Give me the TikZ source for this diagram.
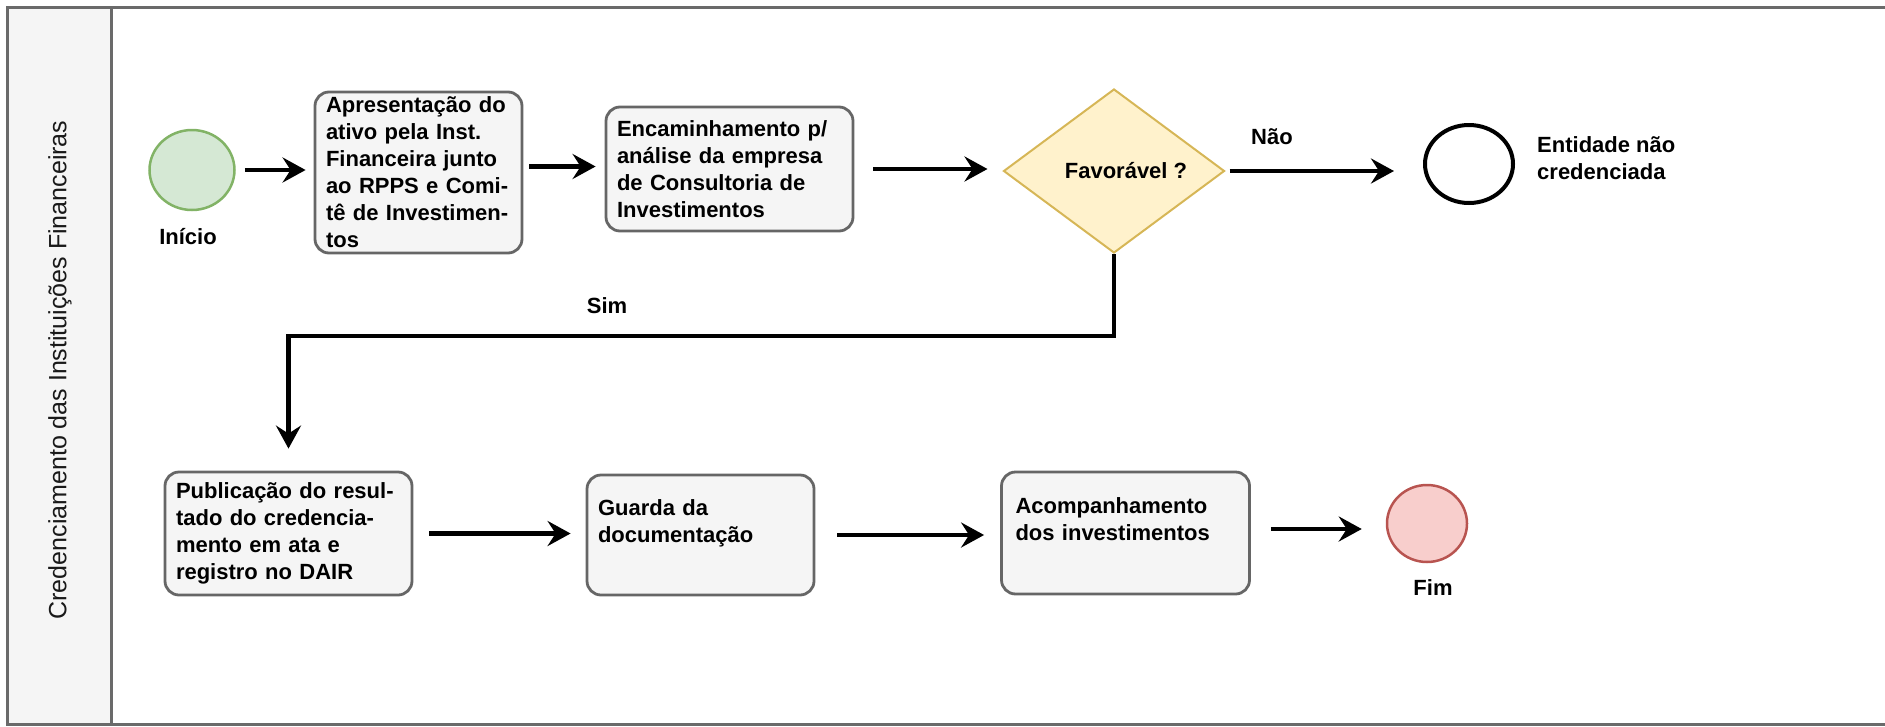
\documentclass[tikz,border=0pt]{standalone}
\usepackage{fontspec}
\setmainfont{Liberation Sans}
\usetikzlibrary{shapes.geometric,arrows.meta}

\definecolor{boxfill}{HTML}{F5F5F5}
\definecolor{boxline}{HTML}{666666}
\definecolor{startfill}{HTML}{D5E8D4}
\definecolor{startline}{HTML}{82B366}
\definecolor{endfill}{HTML}{F8CECC}
\definecolor{endline}{HTML}{B85450}
\definecolor{decfill}{HTML}{FFF2CC}
\definecolor{decline}{HTML}{D6B656}
\definecolor{lanegray}{HTML}{6A6A6A}

\begin{document}
\begin{tikzpicture}[x=1pt,y=-1pt,
    txt/.style={font=\bfseries\fontsize{22}{27}\selectfont},
    task/.style={txt, rectangle, rounded corners=14pt, draw=boxline, fill=boxfill,
        line width=2.8pt, align=left, inner xsep=11pt, inner ysep=2pt},
    event/.style={ellipse, inner sep=0pt},
    flow/.style={-{Stealth[length=23pt,width=25pt,inset=8pt]}, line width=4.2pt}]

    \useasboundingbox (0,0) rectangle (1885,726);

    % lane
    \fill[boxfill] (7,7) rectangle (111,724);
    \draw[lanegray, line width=3pt] (1885,7) -- (7,7) -- (7,724) -- (1885,724);
    \draw[lanegray, line width=3pt] (111,7) -- (111,724);
    \node[rotate=90, font=\fontsize{25}{30}\selectfont, text=black!90] (lane) at (60,370)
        {Credenciamento das Instituições Financeiras};

    % top row
    \node[event, draw=startline, fill=startfill, line width=2.5pt,
        minimum width=85pt, minimum height=80pt] (ini) at (192,170) {};
    \node[txt] (inilbl) at (188,237) {Início};

    \node[task, text width=185pt, minimum width=207pt, minimum height=161pt] (apres) at (418.5,172.5)
        {Apresentação do\\ativo pela Inst.\\Financeira junto\\ao RPPS e Comi-\\tê de Investimen-\\tos};

    \node[task, text width=225pt, minimum width=247pt, minimum height=124pt] (encam) at (729.5,169)
        {Encaminhamento p/\\análise da empresa\\de Consultoria de\\Investimentos};

    \node[diamond, draw=decline, fill=decfill, line width=2pt, inner sep=0pt,
        minimum width=221pt, minimum height=164pt,
        label={[txt, xshift=12pt]center:Favorável ?}] (fav) at (1114,171) {};

    \node[txt] (naolbl) at (1272,137) {Não};
    \node[event, draw=black, fill=white, line width=4pt,
        minimum width=88pt, minimum height=78pt] (naocred) at (1469,164) {};
    \node[txt, align=left, anchor=west, inner sep=0pt] (naocredlbl) at (1537,158)
        {Entidade não\\credenciada};

    \node[txt] (simlbl) at (607,306) {Sim};

    % bottom row
    \node[task, text width=225pt, minimum width=247pt, minimum height=123pt] (publ) at (288.5,533.5)
        {Publicação do resul-\\tado do credencia-\\mento em ata e\\registro no DAIR};

    \node[task, text width=205pt, minimum width=227pt, minimum height=120pt] (guarda) at (700.5,535)
        {Guarda da\\documentação\\\mbox{}};

    \node[task, text width=220pt, inner xsep=14pt, minimum width=247pt, minimum height=122pt] (acomp) at (1125.5,533)
        {Acompanhamento\\dos investimentos\\\mbox{}};

    \node[event, draw=endline, fill=endfill, line width=2.5pt,
        minimum width=80pt, minimum height=77pt] (fim) at (1427,523.5) {};
    \node[txt] (fimlbl) at (1433,588) {Fim};

    % connectors
    \draw[flow, shorten <=9pt, shorten >=8pt] (ini.east) -- (ini.east -| apres.west);
    \draw[flow, shorten <=6pt, shorten >=9pt] ([yshift=6pt]apres.east) -- ([yshift=6pt]apres.east -| encam.west);
    \draw[flow, shorten <=19pt, shorten >=15pt] (encam.east) -- (encam.east -| fav.west);
    \draw[flow, shorten <=4pt, shorten >=29pt] (fav.east) -- (fav.east -| naocred.west);
    \draw[flow, shorten >=22pt] (fav.south) -- ++(0,82) -| (publ.north);
    \draw[flow, shorten <=16pt, shorten >=15pt] (publ.east) -- (publ.east -| guarda.west);
    \draw[flow, shorten <=22pt, shorten >=16pt] (guarda.east) -- (guarda.east -| acomp.west);
    \draw[flow, shorten <=20pt, shorten >=24pt] ([yshift=4pt]acomp.east) -- ([yshift=4pt]acomp.east -| fim.west);

\end{tikzpicture}
\end{document}
